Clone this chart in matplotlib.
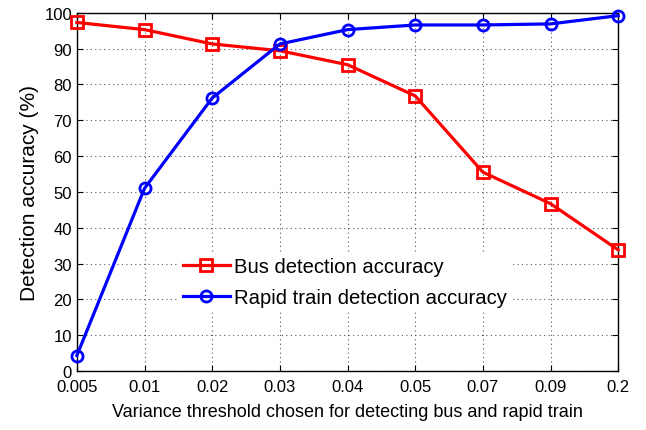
import matplotlib
matplotlib.use('Agg')
import matplotlib.pyplot as plt
import numpy as np

plt.rcParams['font.family'] = ['Liberation Sans', 'DejaVu Sans']

thresholds = ['0.005', '0.01', '0.02', '0.03', '0.04', '0.05', '0.07', '0.09', '0.2']
bus_acc = [97.3, 95.3, 91.3, 89.4, 85.5, 76.8, 55.5, 46.7, 33.8]
train_acc = [4.3, 51.0, 76.2, 91.3, 95.3, 96.6, 96.6, 96.9, 99.2]

x = np.arange(len(thresholds))

fig = plt.figure(figsize=(6.46, 4.31), dpi=100)
ax = fig.add_axes([0.119, 0.137, 0.838, 0.831])

ax.plot(x, bus_acc, color='red', lw=2.3, marker='s', ms=8, mfc='none', mew=2,
        label='Bus detection accuracy', clip_on=False, zorder=3)
ax.plot(x, train_acc, color='blue', lw=2.3, marker='o', ms=8, mfc='none', mew=2,
        label='Rapid train detection accuracy', clip_on=False, zorder=3)

ax.set_xlim(0, len(thresholds) - 1)
ax.set_ylim(0, 100)
ax.set_xticks(x)
ax.set_xticklabels(thresholds)
ax.set_yticks(np.arange(0, 101, 10))
ax.tick_params(direction='in', labelsize=12, length=4, top=True, right=True)
ax.tick_params(axis='x', pad=6)
ax.grid(True, linestyle=(0, (1, 3)), color='#555555', lw=0.8)
for s in ax.spines.values():
    s.set_linewidth(1.0)

ax.set_xlabel('Variance threshold chosen for detecting bus and rapid train', fontsize=13, labelpad=6)
ax.set_ylabel('Detection accuracy (%)', fontsize=15)

leg = ax.legend(loc='lower left', bbox_to_anchor=(0.17, 0.14), fontsize=14.6, frameon=True,
                framealpha=1, edgecolor='white', fancybox=False, handlelength=2.3,
                handletextpad=0.2, borderpad=0.2, labelspacing=0.55)

fig.savefig('out.png', dpi=100)
